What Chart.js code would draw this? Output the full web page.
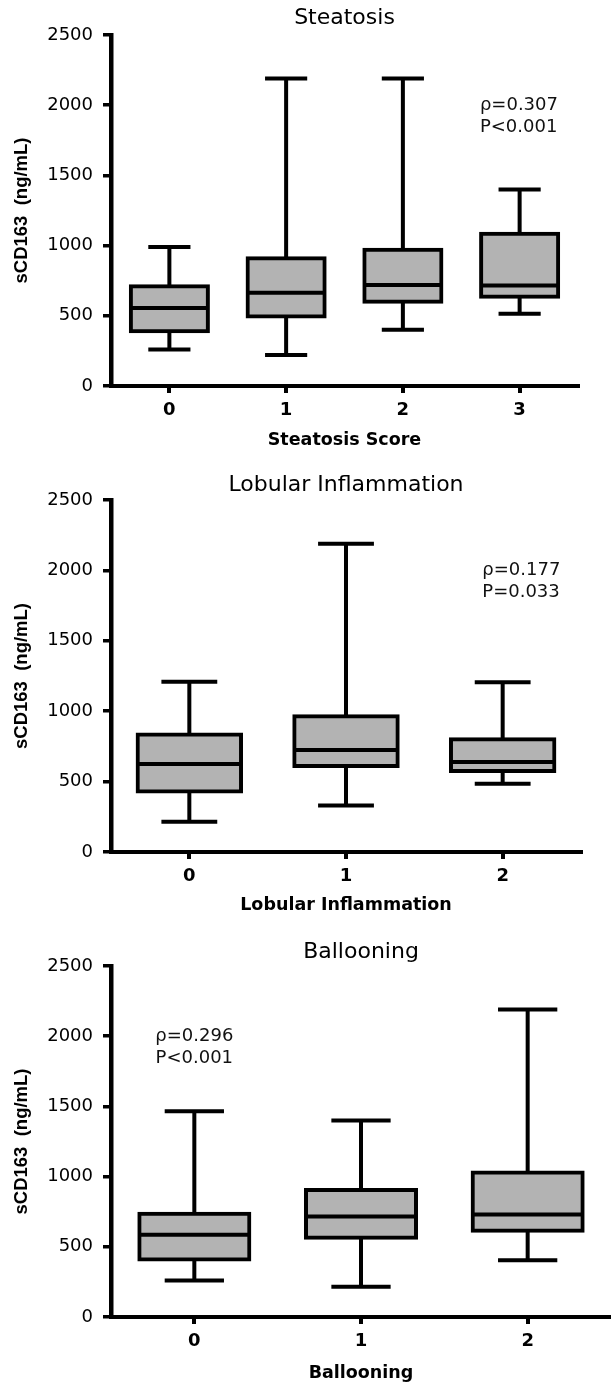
<!DOCTYPE html>
<html><head><meta charset="utf-8">
<script src="https://cdn.jsdelivr.net/npm/chart.js@4"></script>
<style>html,body{margin:0;padding:0;background:#fff;} canvas{display:block;}</style>
</head><body>
<canvas id="c1" width="611" height="460"></canvas>
<canvas id="c2" width="611" height="460"></canvas>
<canvas id="c3" width="611" height="464"></canvas>
<script>
// ---- shared axis data ----
const yTicks = [0, 500, 1000, 1500, 2000, 2500];
const yAxisTitle = 'sCD163  (ng/mL)';

// ---- Panel 1: Steatosis ----
const steatosisTitle = 'Steatosis';
const steatosisXTitle = 'Steatosis Score';
const steatosisCategories = ['0', '1', '2', '3'];
const steatosisMin = [260, 220, 400, 515];
const steatosisQ1 = [390, 495, 600, 635];
const steatosisMedian = [555, 665, 720, 715];
const steatosisQ3 = [710, 910, 970, 1085];
const steatosisMax = [990, 2190, 2190, 1400];
const steatosisStats = ['\u03C1=0.307', 'P<0.001'];

// ---- Panel 2: Lobular Inflammation ----
const lobularTitle = 'Lobular Inflammation';
const lobularXTitle = 'Lobular Inflammation';
const lobularCategories = ['0', '1', '2'];
const lobularMin = [215, 330, 485];
const lobularQ1 = [430, 610, 575];
const lobularMedian = [625, 725, 640];
const lobularQ3 = [835, 965, 800];
const lobularMax = [1210, 2190, 1205];
const lobularStats = ['\u03C1=0.177', 'P=0.033'];

// ---- Panel 3: Ballooning ----
const balloonTitle = 'Ballooning';
const balloonXTitle = 'Ballooning';
const balloonCategories = ['0', '1', '2'];
const balloonMin = [260, 215, 405];
const balloonQ1 = [410, 565, 615];
const balloonMedian = [585, 715, 730];
const balloonQ3 = [735, 905, 1030];
const balloonMax = [1465, 1400, 2190];
const balloonStats = ['\u03C1=0.296', 'P<0.001'];

Chart.defaults.font.family = '"DejaVu Sans", "Liberation Sans", Arial, sans-serif';
Chart.defaults.color = '#000';

const LW = 4;

const whiskerPlugin = {
  id: 'whiskers',
  beforeDatasetsDraw(chart, args, opts) {
    const ctx = chart.ctx, y = chart.scales.y;
    const meta = chart.getDatasetMeta(0);
    ctx.save();
    ctx.strokeStyle = '#000';
    ctx.lineWidth = LW;
    meta.data.forEach((el, i) => {
      const p = el.getProps(['x', 'width'], true);
      const w = p.width + 4;
      const yMax = y.getPixelForValue(opts.max[i]);
      const yMin = y.getPixelForValue(opts.min[i]);
      const yQ1 = y.getPixelForValue(opts.q1[i]);
      const yQ3 = y.getPixelForValue(opts.q3[i]);
      ctx.beginPath();
      ctx.moveTo(p.x, yQ3); ctx.lineTo(p.x, yMax);
      ctx.moveTo(p.x, yQ1); ctx.lineTo(p.x, yMin);
      ctx.moveTo(p.x - w * 0.26, yMax); ctx.lineTo(p.x + w * 0.26, yMax);
      ctx.moveTo(p.x - w * 0.26, yMin); ctx.lineTo(p.x + w * 0.26, yMin);
      ctx.stroke();
    });
    ctx.restore();
  },
  afterDatasetsDraw(chart, args, opts) {
    const ctx = chart.ctx, y = chart.scales.y;
    const meta = chart.getDatasetMeta(0);
    ctx.save();
    ctx.strokeStyle = '#000';
    ctx.lineWidth = LW;
    meta.data.forEach((el, i) => {
      const p = el.getProps(['x', 'width'], true);
      const yMed = y.getPixelForValue(opts.median[i]);
      ctx.beginPath();
      ctx.moveTo(p.x - p.width / 2, yMed); ctx.lineTo(p.x + p.width / 2, yMed);
      ctx.stroke();
    });
    ctx.restore();
  }
};

const statsPlugin = {
  id: 'stats',
  afterDraw(chart, args, opts) {
    const ctx = chart.ctx;
    const x = chart.scales.x.getPixelForValue(opts.xIndex);
    const y0 = chart.scales.y.getPixelForValue(opts.yValue);
    ctx.save();
    ctx.font = '18px "DejaVu Sans"';
    ctx.fillStyle = '#111';
    ctx.textAlign = opts.align;
    ctx.textBaseline = 'middle';
    opts.lines.forEach((t, k) => ctx.fillText(t, x, y0 + k * 22));
    ctx.restore();
  }
};

function makePanel(id, cfg) {
  const H = cfg.height;
  new Chart(document.getElementById(id), {
    type: 'bar',
    data: {
      labels: cfg.categories,
      datasets: [{
        data: cfg.q1.map((v, i) => [v, cfg.q3[i]]),
        backgroundColor: '#b3b3b3',
        borderColor: '#000',
        borderWidth: LW,
        borderSkipped: false,
        inflateAmount: 2,
        barPercentage: 0.66,
        categoryPercentage: 1.0
      }]
    },
    options: {
      responsive: false,
      devicePixelRatio: 1,
      animation: false,
      layout: {padding: {left: 0, right: cfg.padRight, top: 0, bottom: 0}},
      plugins: {
        legend: {display: false},
        tooltip: {enabled: false},
        title: {
          display: true, text: cfg.title, fullSize: false,
          font: {size: 22, weight: 'normal'}, color: '#000',
          padding: {top: cfg.titleTop, bottom: cfg.titleBottom}
        },
        whiskers: {min: cfg.min, q1: cfg.q1, median: cfg.median, q3: cfg.q3, max: cfg.max},
        stats: {lines: cfg.stats, xIndex: cfg.statsX, yValue: 2000, align: cfg.statsAlign}
      },
      scales: {
        x: {
          grid: {offset: false, drawOnChartArea: false, drawTicks: true, tickLength: 7, lineWidth: 4, color: '#000'},
          border: {display: true, color: '#000', width: 4},
          ticks: {font: {size: 18, weight: 'bold'}, color: '#000', padding: cfg.xTickPad},
          title: {display: true, text: cfg.xTitle, color: '#000',
                  font: {size: 17.5, weight: 'bold'}, padding: {top: 0, bottom: cfg.xTitlePad}},
          afterFit: (s) => { s.height = H - cfg.bottom; }
        },
        y: {
          min: 0, max: 2500,
          afterBuildTicks: (s) => { s.ticks = yTicks.map(v => ({value: v})); },
          ticks: {font: {size: 18}, color: '#000', padding: 10, callback: (v) => String(v)},
          grid: {drawOnChartArea: false, drawTicks: true, tickLength: 8, lineWidth: 3.5, color: '#000'},
          border: {display: true, color: '#000', width: 4.5},
          title: {display: true, text: yAxisTitle, color: '#000',
                  font: {family: '"Liberation Sans", Arial, sans-serif', size: 18.5, weight: 'bold'},
                  padding: {top: 11, bottom: 0}},
          afterFit: (s) => { s.width = 111; }
        }
      }
    },
    plugins: [whiskerPlugin, statsPlugin]
  });
}

makePanel('c1', {
  height: 460, bottom: 386, padRight: 33, titleTop: 4.8, titleBottom: 3.8,
  xTickPad: 7, xTitlePad: 9,
  title: steatosisTitle, xTitle: steatosisXTitle, categories: steatosisCategories,
  min: steatosisMin, q1: steatosisQ1, median: steatosisMedian, q3: steatosisQ3, max: steatosisMax,
  stats: steatosisStats, statsX: 2.66, statsAlign: 'left'
});
makePanel('c2', {
  height: 460, bottom: 392, padRight: 30, titleTop: 11.8, titleBottom: 1.8,
  xTickPad: 7, xTitlePad: 4,
  title: lobularTitle, xTitle: lobularXTitle, categories: lobularCategories,
  min: lobularMin, q1: lobularQ1, median: lobularMedian, q3: lobularQ3, max: lobularMax,
  stats: lobularStats, statsX: 1.87, statsAlign: 'left'
});
makePanel('c3', {
  height: 464, bottom: 397, padRight: 0, titleTop: 18.8, titleBottom: 0.8,
  xTickPad: 7, xTitlePad: 0.5,
  title: balloonTitle, xTitle: balloonXTitle, categories: balloonCategories,
  min: balloonMin, q1: balloonQ1, median: balloonMedian, q3: balloonQ3, max: balloonMax,
  stats: balloonStats, statsX: 0, statsAlign: 'center'
});
</script>
</body></html>
